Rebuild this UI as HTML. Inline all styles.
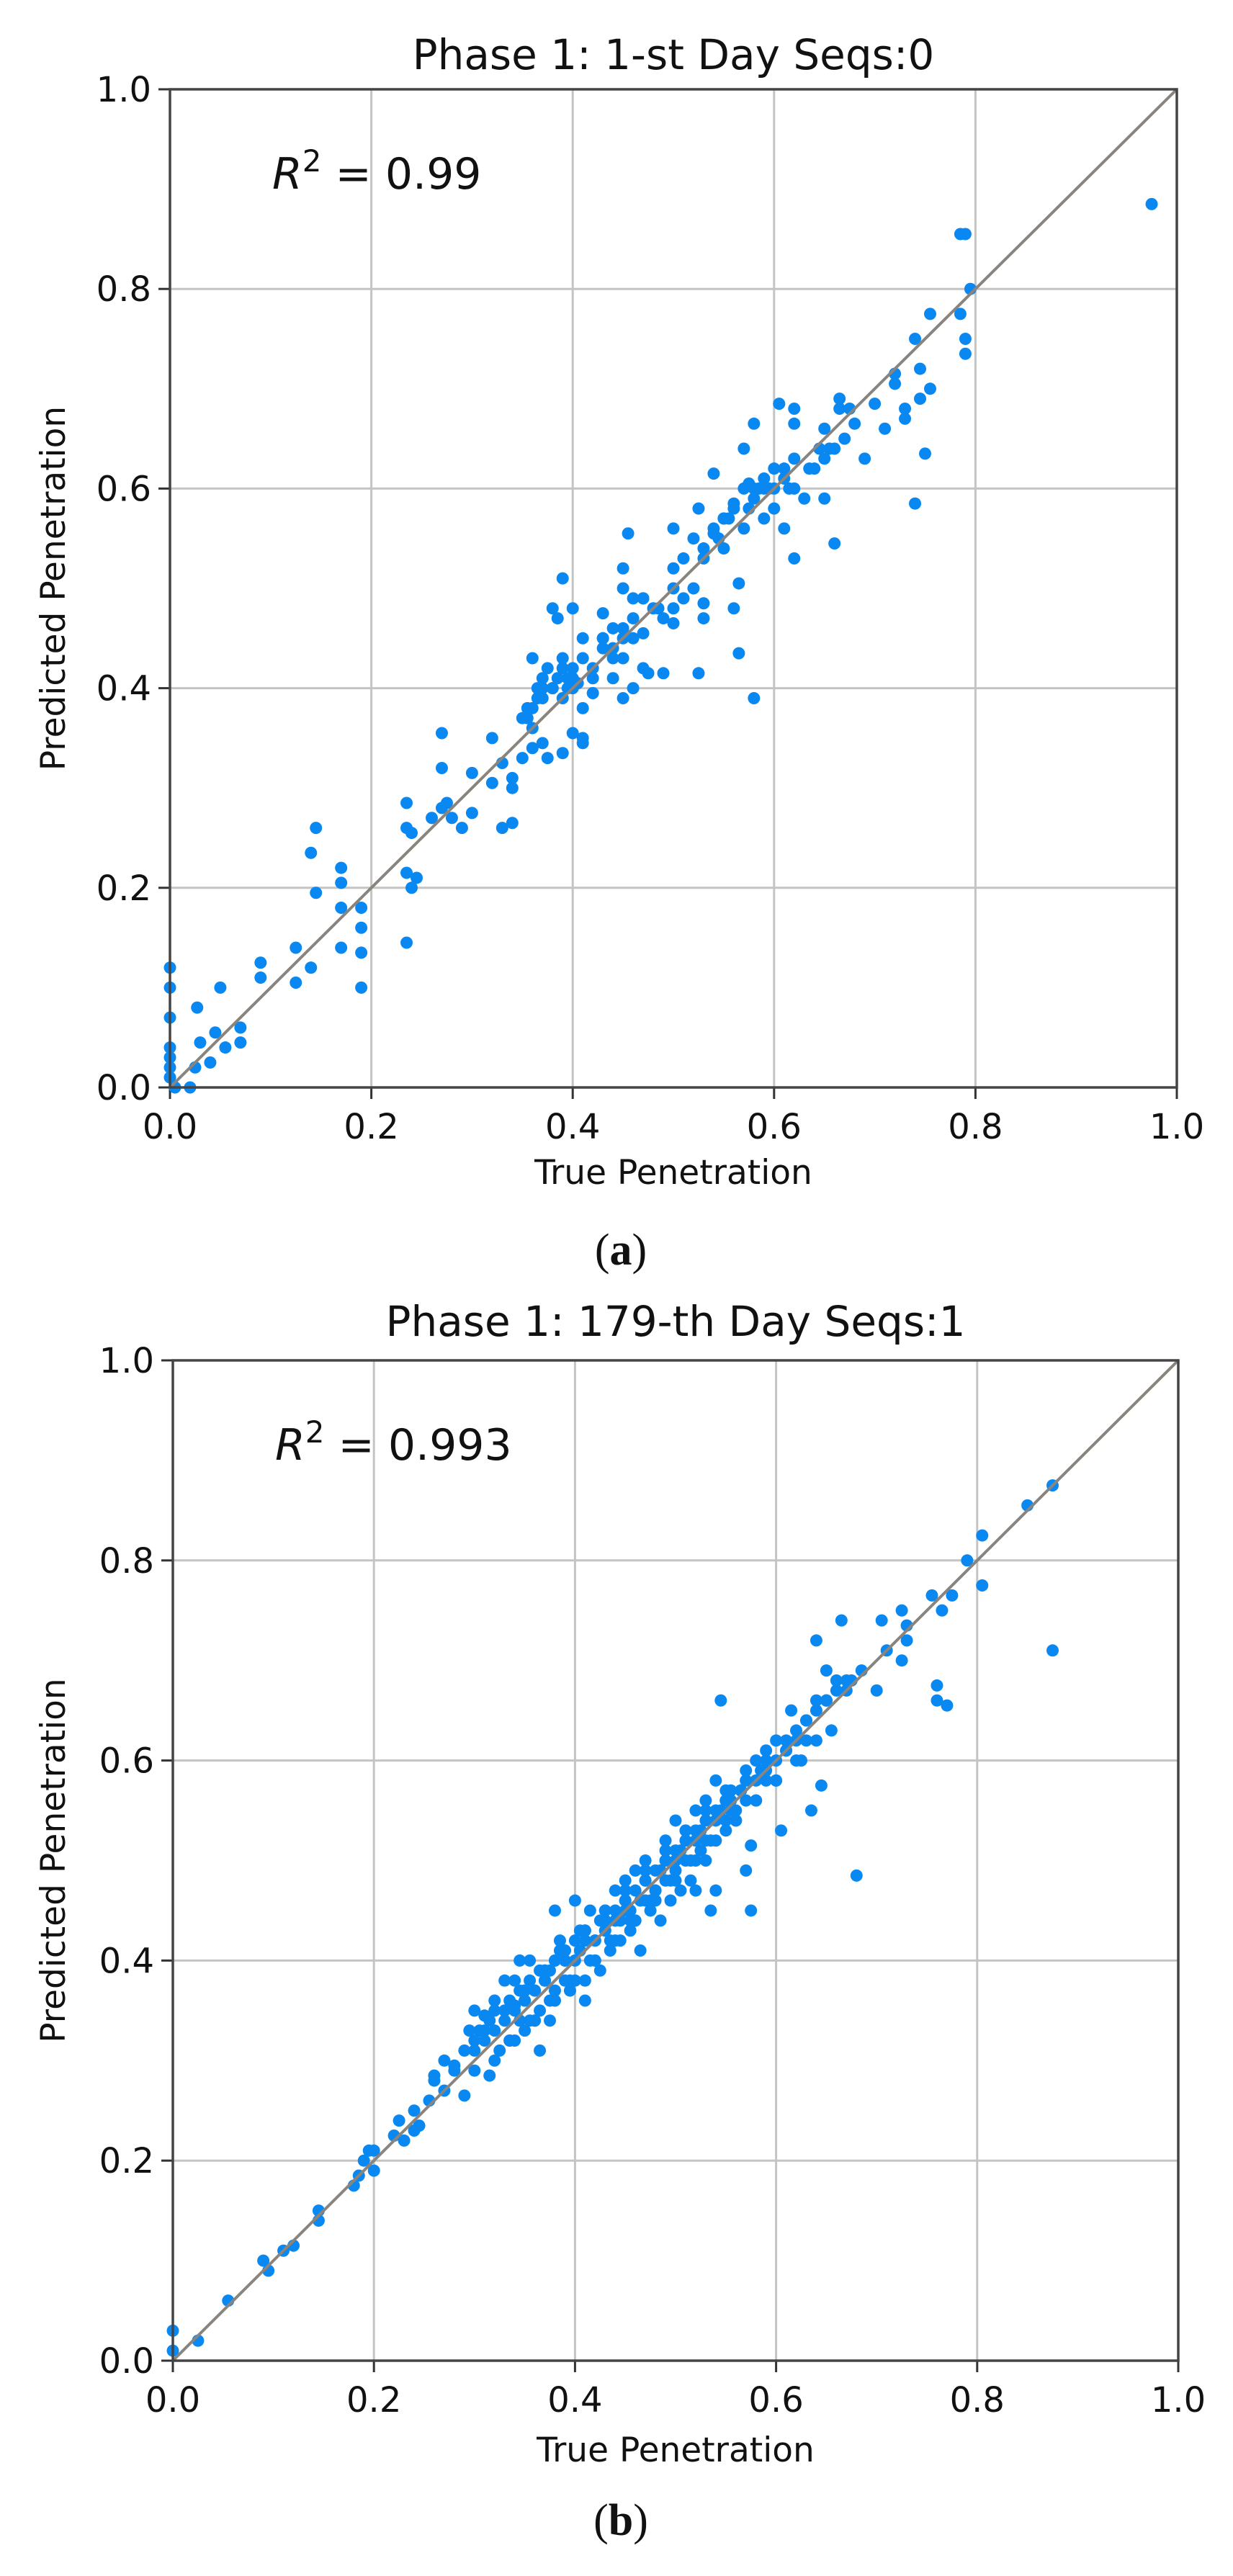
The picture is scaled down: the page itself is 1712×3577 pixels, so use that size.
<!DOCTYPE html>
<html><head><meta charset="utf-8"><style>
html,body{margin:0;padding:0;background:#fff;}
svg{display:block;}
text{font-family:"DejaVu Sans","Liberation Sans",sans-serif;fill:#111;}
</style></head><body>
<svg id="fig" width="1712" height="3577" viewBox="0 0 1712 3577" xmlns="http://www.w3.org/2000/svg"></svg>
<script>
// Panel (a) data: true vs predicted penetration
const trueA = [0,0,0,0,0,0,0,0.005,0.02,0.025,0.027,0.03,0.04,0.045,0.05,0.055,0.07,0.07,0.09,0.09,0.125,0.125,0.14,0.14,0.145,0.145,0.17,0.17,0.17,0.17,0.19,0.19,0.19,0.19,0.235,0.235,0.235,0.235,0.24,0.24,0.245,0.26,0.27,0.27,0.27,0.275,0.28,0.29,0.3,0.3,0.32,0.32,0.33,0.33,0.34,0.34,0.34,0.35,0.35,0.355,0.36,0.36,0.36,0.37,0.37,0.37,0.375,0.38,0.385,0.39,0.39,0.39,0.39,0.4,0.4,0.4,0.4,0.41,0.41,0.41,0.41,0.42,0.42,0.43,0.43,0.44,0.44,0.44,0.45,0.45,0.45,0.45,0.45,0.455,0.46,0.46,0.46,0.47,0.47,0.475,0.48,0.49,0.49,0.5,0.5,0.5,0.5,0.5,0.51,0.52,0.52,0.525,0.525,0.53,0.53,0.53,0.54,0.54,0.54,0.545,0.55,0.55,0.56,0.56,0.565,0.565,0.57,0.57,0.575,0.58,0.58,0.58,0.59,0.59,0.6,0.6,0.605,0.61,0.61,0.62,0.62,0.62,0.62,0.63,0.64,0.65,0.65,0.65,0.66,0.66,0.665,0.665,0.67,0.68,0.69,0.7,0.71,0.72,0.72,0.73,0.73,0.74,0.74,0.745,0.745,0.75,0.755,0.755,0.785,0.785,0.79,0.795,0.79,0.79,0.975,0.355,0.365,0.38,0.395,0.405,0.43,0.47,0.485,0.51,0.555,0.575,0.585,0.595,0.615,0.635,0.645,0.655,0.675,0.36,0.365,0.37,0.375,0.38,0.385,0.39,0.395,0.4,0.41,0.42,0.43,0.44,0.45,0.46,0.47,0.53,0.55,0.56,0.57,0.58,0.59,0.6,0.61,0.62];
const predA = [0.12,0.10,0.07,0.04,0.03,0.02,0.01,0.0,0.0,0.02,0.08,0.045,0.025,0.055,0.1,0.04,0.06,0.045,0.125,0.11,0.14,0.105,0.12,0.235,0.26,0.195,0.22,0.205,0.18,0.14,0.18,0.16,0.135,0.1,0.285,0.26,0.215,0.145,0.255,0.2,0.21,0.27,0.355,0.32,0.28,0.285,0.27,0.26,0.275,0.315,0.305,0.35,0.325,0.26,0.265,0.31,0.3,0.33,0.37,0.38,0.36,0.34,0.43,0.4,0.41,0.345,0.33,0.48,0.47,0.51,0.42,0.39,0.335,0.4,0.41,0.48,0.355,0.38,0.35,0.345,0.45,0.42,0.395,0.44,0.475,0.43,0.46,0.41,0.52,0.5,0.45,0.43,0.39,0.555,0.49,0.47,0.4,0.455,0.42,0.415,0.48,0.47,0.415,0.56,0.52,0.5,0.48,0.465,0.49,0.5,0.55,0.58,0.415,0.53,0.485,0.47,0.615,0.56,0.555,0.55,0.57,0.54,0.585,0.48,0.505,0.435,0.64,0.56,0.605,0.665,0.59,0.39,0.57,0.6,0.62,0.58,0.685,0.61,0.56,0.68,0.665,0.53,0.6,0.59,0.62,0.66,0.63,0.59,0.64,0.545,0.69,0.68,0.65,0.665,0.63,0.685,0.66,0.705,0.715,0.67,0.68,0.585,0.75,0.72,0.69,0.635,0.7,0.775,0.775,0.855,0.855,0.8,0.75,0.735,0.885,0.37,0.39,0.4,0.41,0.405,0.45,0.49,0.48,0.53,0.57,0.58,0.6,0.6,0.6,0.62,0.64,0.64,0.68,0.38,0.4,0.39,0.42,0.4,0.41,0.43,0.4,0.42,0.43,0.41,0.45,0.44,0.46,0.45,0.49,0.54,0.57,0.58,0.6,0.6,0.61,0.6,0.62,0.63];
// Panel (b) data
const trueB = [0,0,0.025,0.055,0.09,0.095,0.11,0.12,0.145,0.145,0.18,0.185,0.19,0.195,0.2,0.2,0.22,0.225,0.23,0.24,0.245,0.24,0.255,0.26,0.26,0.27,0.27,0.28,0.28,0.29,0.295,0.3,0.3,0.31,0.31,0.315,0.32,0.32,0.325,0.33,0.33,0.335,0.34,0.34,0.345,0.345,0.35,0.35,0.355,0.36,0.36,0.365,0.365,0.37,0.37,0.375,0.38,0.38,0.38,0.385,0.39,0.39,0.395,0.4,0.4,0.405,0.41,0.41,0.415,0.42,0.42,0.425,0.43,0.43,0.435,0.44,0.44,0.445,0.45,0.45,0.455,0.46,0.46,0.465,0.47,0.47,0.475,0.48,0.48,0.485,0.49,0.49,0.495,0.5,0.5,0.5,0.505,0.51,0.51,0.515,0.52,0.52,0.52,0.525,0.53,0.53,0.535,0.54,0.54,0.54,0.545,0.55,0.55,0.555,0.56,0.565,0.57,0.57,0.575,0.575,0.58,0.58,0.59,0.59,0.6,0.6,0.605,0.61,0.615,0.62,0.625,0.63,0.635,0.64,0.64,0.645,0.65,0.65,0.655,0.66,0.665,0.67,0.675,0.68,0.685,0.7,0.705,0.71,0.725,0.725,0.73,0.73,0.755,0.76,0.76,0.765,0.77,0.775,0.79,0.805,0.805,0.85,0.875,0.875,0.31,0.33,0.35,0.37,0.39,0.41,0.43,0.45,0.47,0.49,0.51,0.53,0.55,0.57,0.59,0.61,0.63,0.65,0.335,0.355,0.375,0.395,0.415,0.435,0.455,0.475,0.495,0.515,0.535,0.555,0.565,0.585,
0.29,0.3,0.305,0.315,0.32,0.33,0.335,0.34,0.345,0.35,0.355,0.36,0.365,0.37,0.375,0.38,0.385,0.39,0.4,0.405,0.41,0.42,0.425,0.43,0.44,0.445,0.45,0.455,0.46,0.465,0.47,0.48,0.485,0.49,0.5,0.505,0.51,0.52,0.525,0.53,0.54,0.545,0.55,0.555,0.56,0.565,0.57,0.58,0.585,0.59,0.6,0.61,0.62,0.63,0.64,0.65,0.66,0.67,0.3,0.32,0.34,0.36,0.38,0.4,0.42,0.44,0.46,0.48,0.5,0.52,0.54,0.56,0.58,0.6,0.62,0.64,0.35,0.37,0.39,0.41,0.43,0.45,0.47,0.49,0.51,0.53,0.55,0.57];
const predB = [0.03,0.01,0.02,0.06,0.1,0.09,0.11,0.115,0.15,0.14,0.175,0.185,0.2,0.21,0.19,0.21,0.225,0.24,0.22,0.25,0.235,0.23,0.26,0.285,0.28,0.27,0.3,0.29,0.295,0.265,0.33,0.35,0.31,0.32,0.345,0.285,0.36,0.33,0.31,0.38,0.34,0.32,0.355,0.38,0.34,0.4,0.36,0.33,0.4,0.34,0.37,0.35,0.31,0.38,0.39,0.34,0.45,0.4,0.37,0.42,0.38,0.41,0.37,0.46,0.4,0.43,0.38,0.36,0.45,0.4,0.42,0.39,0.43,0.45,0.41,0.44,0.47,0.42,0.45,0.48,0.43,0.44,0.49,0.41,0.5,0.46,0.45,0.47,0.49,0.44,0.5,0.52,0.46,0.51,0.49,0.54,0.47,0.52,0.53,0.48,0.53,0.55,0.47,0.51,0.56,0.5,0.45,0.55,0.58,0.47,0.66,0.56,0.53,0.57,0.54,0.57,0.58,0.49,0.45,0.515,0.6,0.56,0.61,0.59,0.62,0.58,0.53,0.61,0.65,0.62,0.6,0.64,0.55,0.66,0.72,0.575,0.66,0.69,0.63,0.68,0.74,0.67,0.68,0.485,0.69,0.67,0.74,0.71,0.75,0.7,0.735,0.72,0.765,0.66,0.675,0.75,0.655,0.765,0.8,0.825,0.775,0.855,0.875,0.71,0.33,0.35,0.37,0.38,0.4,0.42,0.44,0.46,0.48,0.5,0.52,0.54,0.56,0.58,0.6,0.62,0.64,0.66,0.32,0.34,0.36,0.38,0.4,0.42,0.44,0.46,0.48,0.5,0.52,0.55,0.57,0.59,
0.31,0.32,0.33,0.34,0.35,0.35,0.36,0.35,0.37,0.36,0.38,0.37,0.39,0.38,0.39,0.4,0.41,0.4,0.42,0.41,0.43,0.42,0.44,0.43,0.45,0.44,0.46,0.45,0.47,0.46,0.48,0.47,0.49,0.48,0.5,0.51,0.5,0.52,0.53,0.52,0.54,0.55,0.54,0.56,0.55,0.57,0.56,0.58,0.59,0.58,0.6,0.61,0.63,0.62,0.65,0.66,0.67,0.68,0.29,0.3,0.32,0.34,0.36,0.38,0.4,0.42,0.44,0.46,0.48,0.5,0.52,0.54,0.56,0.58,0.6,0.62,0.37,0.39,0.41,0.43,0.45,0.47,0.49,0.51,0.53,0.55,0.57,0.59];
const ticks = [0,0.2,0.4,0.6,0.8,1.0];
const tickLabels = ["0.0","0.2","0.4","0.6","0.8","1.0"];

const NS="http://www.w3.org/2000/svg";
const svg=document.getElementById('fig');
function mk(tag,attrs,parent){const e=document.createElementNS(NS,tag);for(const k in attrs)e.setAttribute(k,attrs[k]);(parent||svg).appendChild(e);return e;}

function panel(p){
  const g=mk('g',{});
  
  
  const sx=v=>p.x0+(p.x1-p.x0)*v, sy=v=>p.y1-(p.y1-p.y0)*v;
  ticks.forEach((t,i)=>{
    const gv=mk('line',{x1:sx(t),x2:sx(t),y1:p.y0,y2:p.y1,stroke:'#c4c4c4','stroke-width':3},g);
    
    
    const gh=mk('line',{x1:p.x0,x2:p.x1,y1:sy(t),y2:sy(t),stroke:'#c4c4c4','stroke-width':3},g);
    
    
    const tx=mk('line',{x1:sx(t),x2:sx(t),y1:p.y1,y2:p.y1+16,stroke:'#333','stroke-width':3},g);
    
    
    const ty=mk('line',{x1:p.x0-16,x2:p.x0,y1:sy(t),y2:sy(t),stroke:'#333','stroke-width':3},g);
    
    
    const lx=mk('text',{x:sx(t),y:p.y1+71,'font-size':48,'text-anchor':'middle'},g);
    lx.textContent=tickLabels[i];
    
    
    const ly=mk('text',{x:p.x0-26,y:sy(t)+17,'font-size':48,'text-anchor':'end'},g);
    ly.textContent=tickLabels[i];
    
    
  });
  p.xs.forEach((v,i)=>{
    const c=mk('circle',{cx:sx(v),cy:sy(p.ys[i]),r:8.5,fill:'#0a88f2'},g);
    
    
  });
  const d=mk('line',{x1:sx(0),y1:sy(0),x2:sx(1),y2:sy(1),stroke:'#8a847e','stroke-width':4},g);
  
  
  const f=mk('rect',{x:p.x0,y:p.y0,width:p.x1-p.x0,height:p.y1-p.y0,fill:'none',stroke:'#444','stroke-width':3.5},g);
  
  
  const t=mk('text',{x:(p.x0+p.x1)/2,y:p.titleY,'font-size':58,'text-anchor':'middle'},g);
  t.textContent=p.title;
  
  
  const r=mk('text',{x:p.x0+142,y:p.r2Y,'font-size':60},g);
  r.innerHTML='<tspan font-style="italic">R</tspan><tspan dy="-24" font-size="42">2</tspan><tspan dy="24"> = '+p.r2+'</tspan>';
  
  
  const xl=mk('text',{x:(p.x0+p.x1)/2,y:p.xlabY,'font-size':47,'text-anchor':'middle'},g);
  xl.textContent='True Penetration';
  
  
  const yc=(p.y0+p.y1)/2;
  const yl=mk('text',{x:90,y:yc,'font-size':47,'text-anchor':'middle',transform:'rotate(-90 90 '+yc+')'},g);
  yl.textContent='Predicted Penetration';
  
  
  const cap=mk('text',{x:862,y:p.capY,'font-size':62,'text-anchor':'middle',style:'font-family:"Liberation Serif",serif'},g);
  cap.innerHTML='(<tspan font-weight="bold">'+p.cap+'</tspan>)';
  
  
}
panel({id:'panel-a',x0:236,x1:1634,y0:124,y1:1510,xs:trueA,ys:predA,title:'Phase 1: 1-st Day Seqs:0',titleY:96,r2:'0.99',r2Y:262,xlabY:1644,capY:1756,cap:'a'});
panel({id:'panel-b',x0:240,x1:1636,y0:1889,y1:3278,xs:trueB,ys:predB,title:'Phase 1: 179-th Day Seqs:1',titleY:1855,r2:'0.993',r2Y:2027,xlabY:3418,capY:3520,cap:'b'});
</script>
</body></html>
